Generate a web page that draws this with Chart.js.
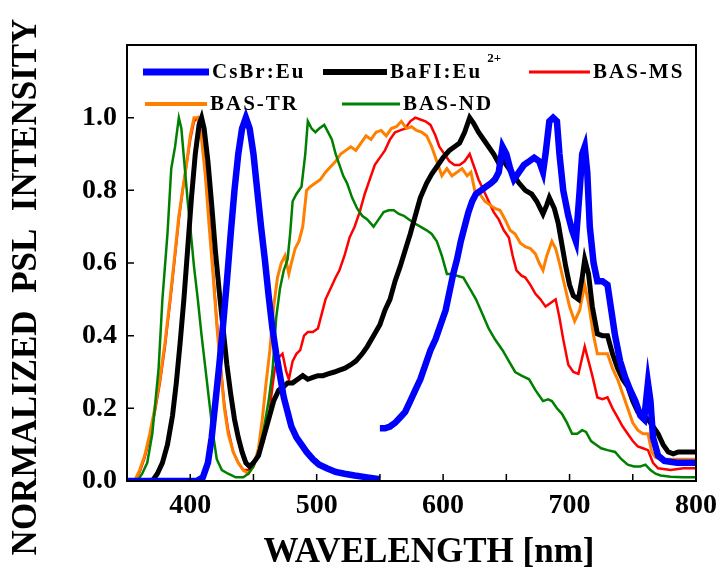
<!DOCTYPE html>
<html>
<head>
<meta charset="utf-8">
<script src="https://cdn.jsdelivr.net/npm/chart.js@4.4.1/dist/chart.umd.min.js"></script>
<style>
  body { margin: 0; background: #fff; }
  canvas { display: block; }
</style>
</head>
<body>
<canvas id="psl" width="725" height="573"></canvas>
<script>
// CsBr:Eu (two separate measured pieces)
const csbrWl1 = [350, 405, 410, 414, 417, 420, 423, 426, 429, 432, 435, 438, 441, 444, 447, 450, 453, 456, 459, 462, 465, 468, 471, 474, 477, 480, 484, 488, 492, 497, 502, 508, 515, 522, 530, 540, 550];
const csbrVal1 = [0, 0, 0.01, 0.05, 0.12, 0.22, 0.32, 0.43, 0.55, 0.68, 0.8, 0.9, 0.97, 1.0, 0.97, 0.9, 0.8, 0.7, 0.61, 0.51, 0.42, 0.35, 0.29, 0.23, 0.19, 0.15, 0.12, 0.1, 0.08, 0.06, 0.045, 0.035, 0.025, 0.02, 0.015, 0.01, 0.005];
const csbrWl2 = [550, 554, 558, 562, 566, 570, 574, 578, 582, 586, 590, 594, 598, 602, 605, 608, 611, 614, 617, 620, 623, 626, 630, 634, 638, 641, 644, 647, 650, 653, 656, 660, 664, 668, 672, 676, 679, 681, 684, 687, 690, 692, 695, 699, 702, 705, 708, 710, 712, 714, 716, 719, 722, 726, 730, 733, 736, 740, 744, 748, 752, 756, 759, 762, 764, 766, 770, 775, 785, 800];
const csbrVal2 = [0.145, 0.145, 0.15, 0.16, 0.175, 0.19, 0.22, 0.25, 0.28, 0.32, 0.36, 0.39, 0.43, 0.47, 0.52, 0.57, 0.61, 0.66, 0.7, 0.74, 0.77, 0.79, 0.8, 0.81, 0.82, 0.83, 0.85, 0.92, 0.9, 0.86, 0.83, 0.85, 0.87, 0.88, 0.89, 0.88, 0.85, 0.9, 0.99, 1.0, 0.99, 0.9, 0.8, 0.73, 0.69, 0.66, 0.8, 0.9, 0.92, 0.85, 0.7, 0.6, 0.55, 0.55, 0.54, 0.47, 0.4, 0.33, 0.285, 0.25, 0.22, 0.18, 0.17, 0.27, 0.22, 0.12, 0.07, 0.055, 0.05, 0.05];

// BaFI:Eu2+
const bafiWl = [350, 370, 374, 378, 382, 386, 389, 392, 395, 398, 401, 404, 407, 409, 411, 414, 417, 420, 423, 426, 429, 432, 435, 438, 441, 444, 447, 450, 454, 458, 462, 466, 470, 474, 477, 481, 485, 489, 493, 497, 501, 505, 509, 514, 518, 522, 527, 531, 536, 540, 545, 550, 554, 558, 562, 566, 570, 574, 578, 582, 587, 591, 595, 600, 605, 609, 613, 617, 621, 624, 628, 632, 636, 640, 644, 648, 652, 656, 660, 665, 670, 674, 679, 682, 684, 688, 691, 694, 697, 700, 703, 707, 710, 712, 715, 718, 722, 726, 730, 734, 738, 742, 746, 750, 754, 758, 762, 766, 770, 774, 778, 782, 786, 790, 795, 800];
const bafiVal = [0, 0, 0.02, 0.05, 0.1, 0.18, 0.27, 0.38, 0.5, 0.64, 0.78, 0.9, 0.98, 1.0, 0.97, 0.88, 0.76, 0.63, 0.52, 0.42, 0.32, 0.24, 0.17, 0.12, 0.08, 0.05, 0.04, 0.05, 0.07, 0.12, 0.17, 0.22, 0.25, 0.26, 0.27, 0.27, 0.28, 0.29, 0.28, 0.285, 0.29, 0.29, 0.295, 0.3, 0.305, 0.31, 0.32, 0.33, 0.35, 0.37, 0.4, 0.43, 0.47, 0.5, 0.55, 0.59, 0.635, 0.68, 0.73, 0.78, 0.82, 0.845, 0.865, 0.89, 0.91, 0.92, 0.93, 0.96, 1.0, 0.985, 0.96, 0.94, 0.92, 0.9, 0.875, 0.88, 0.86, 0.84, 0.82, 0.8, 0.79, 0.77, 0.735, 0.76, 0.78, 0.75, 0.71, 0.65, 0.59, 0.54, 0.51, 0.5, 0.56, 0.61, 0.57, 0.48, 0.405, 0.4, 0.4, 0.35, 0.31, 0.28, 0.26, 0.22, 0.19, 0.18, 0.17, 0.15, 0.13, 0.1, 0.08, 0.075, 0.08, 0.08, 0.08, 0.08];

// BAS-MS
const basMsWl = [350, 356, 360, 364, 368, 372, 376, 380, 384, 388, 391, 394, 397, 400, 403, 406, 409, 412, 415, 418, 421, 424, 427, 430, 434, 438, 442, 446, 450, 454, 458, 462, 465, 467, 470, 473, 476, 478, 481, 484, 487, 490, 493, 497, 501, 504, 507, 511, 515, 518, 522, 526, 530, 534, 538, 542, 546, 550, 554, 558, 562, 566, 570, 574, 578, 582, 586, 590, 594, 597, 601, 605, 609, 613, 617, 621, 625, 628, 632, 636, 640, 644, 648, 652, 655, 658, 662, 665, 669, 673, 677, 681, 685, 689, 692, 695, 699, 703, 707, 710, 712, 715, 718, 722, 726, 730, 734, 738, 742, 746, 750, 754, 758, 762, 766, 770, 780, 790, 800];
const basMsVal = [0, 0, 0.025, 0.065, 0.12, 0.19, 0.27, 0.37, 0.49, 0.62, 0.72, 0.8, 0.87, 0.94, 0.99, 1.0, 0.95, 0.85, 0.72, 0.58, 0.44, 0.32, 0.21, 0.14, 0.08, 0.05, 0.03, 0.03, 0.05, 0.07, 0.11, 0.17, 0.26, 0.31, 0.34, 0.35, 0.3, 0.28, 0.33, 0.35, 0.36, 0.4, 0.41, 0.41, 0.42, 0.46, 0.5, 0.53, 0.56, 0.58, 0.62, 0.67, 0.7, 0.74, 0.79, 0.83, 0.87, 0.89, 0.91, 0.94, 0.96, 0.965, 0.97, 0.99, 1.0, 0.995, 0.99, 0.98, 0.95, 0.92, 0.9, 0.88, 0.87, 0.87, 0.88, 0.9, 0.86, 0.83, 0.8, 0.77, 0.74, 0.72, 0.69, 0.67, 0.62, 0.58, 0.565, 0.56, 0.54, 0.515, 0.5, 0.48, 0.49, 0.5, 0.45, 0.39, 0.32, 0.3, 0.295, 0.34, 0.37, 0.33, 0.29, 0.23, 0.225, 0.23, 0.2, 0.175, 0.15, 0.13, 0.11, 0.095, 0.09, 0.085, 0.05, 0.035, 0.03, 0.035, 0.035];

// BAS-TR
const basTrWl = [350, 356, 360, 364, 368, 372, 376, 380, 384, 388, 391, 394, 397, 400, 403, 406, 409, 412, 415, 418, 421, 424, 427, 430, 434, 438, 442, 446, 450, 454, 457, 460, 463, 466, 469, 472, 475, 478, 480, 483, 486, 489, 492, 495, 499, 503, 507, 511, 515, 519, 523, 527, 531, 535, 539, 543, 547, 551, 555, 559, 563, 567, 571, 575, 579, 583, 587, 591, 595, 599, 603, 607, 611, 615, 619, 622, 625, 629, 633, 637, 641, 645, 649, 653, 657, 661, 665, 669, 673, 676, 679, 682, 686, 689, 692, 696, 700, 704, 708, 712, 715, 719, 722, 726, 730, 734, 738, 742, 746, 750, 754, 758, 762, 765, 768, 772, 780, 790, 800];
const basTrVal = [0, 0, 0.03, 0.07, 0.13, 0.2, 0.28, 0.38, 0.5, 0.63, 0.73, 0.8, 0.87, 0.95, 1.0, 1.0, 0.94, 0.84, 0.7, 0.57, 0.43, 0.31, 0.2, 0.13, 0.08, 0.05, 0.03, 0.02, 0.04, 0.09, 0.17, 0.27, 0.36, 0.48, 0.56, 0.6, 0.62, 0.57, 0.6, 0.64, 0.66, 0.7, 0.8, 0.81, 0.82, 0.83, 0.85, 0.865, 0.88, 0.9, 0.91, 0.92, 0.91, 0.93, 0.95, 0.94, 0.96, 0.965, 0.95, 0.97, 0.975, 0.99, 0.97, 0.975, 0.965, 0.96, 0.95, 0.92, 0.88, 0.84, 0.86, 0.84, 0.85, 0.86, 0.84, 0.85, 0.8, 0.79, 0.77, 0.76, 0.75, 0.745, 0.72, 0.69, 0.68, 0.655, 0.645, 0.64, 0.625, 0.6, 0.58, 0.62, 0.66, 0.64, 0.6, 0.54, 0.48, 0.44, 0.47, 0.54, 0.49, 0.4, 0.35, 0.35, 0.35, 0.31, 0.28, 0.24, 0.2, 0.16, 0.14, 0.13, 0.13, 0.08, 0.065, 0.06, 0.06, 0.06, 0.06];

// BAS-ND
const basNdWl = [350, 358, 362, 366, 370, 375, 378, 382, 385, 388, 391, 393, 396, 398, 400, 403, 406, 409, 412, 415, 418, 421, 425, 430, 436, 442, 446, 450, 454, 458, 462, 465, 468, 471, 474, 477, 479, 481, 484, 488, 491, 493, 496, 499, 502, 506, 509, 512, 515, 518, 521, 524, 528, 532, 536, 540, 545, 549, 553, 557, 561, 565, 569, 573, 577, 582, 587, 591, 595, 599, 603, 607, 611, 616, 621, 626, 631, 636, 641, 647, 652, 657, 662, 668, 673, 679, 683, 686, 690, 694, 698, 702, 706, 710, 713, 717, 721, 725, 730, 736, 741, 746, 751, 756, 760, 764, 768, 772, 780, 790, 800];
const basNdVal = [0, 0, 0.02, 0.05, 0.13, 0.31, 0.5, 0.68, 0.86, 0.92, 1.0, 0.97, 0.85, 0.77, 0.7, 0.59, 0.5, 0.4, 0.31, 0.22, 0.13, 0.06, 0.03, 0.02, 0.01, 0.01, 0.02, 0.04, 0.08, 0.14, 0.22, 0.3, 0.45, 0.53, 0.58, 0.61, 0.68, 0.77, 0.79, 0.81, 0.9, 0.99, 0.97, 0.96, 0.97, 0.98, 0.96, 0.94, 0.9, 0.87, 0.84, 0.82, 0.78, 0.75, 0.73, 0.72, 0.7, 0.72, 0.74, 0.745, 0.745, 0.735, 0.73, 0.72, 0.71, 0.7, 0.69, 0.68, 0.66, 0.62, 0.57, 0.57, 0.565, 0.56, 0.53, 0.5, 0.46, 0.42, 0.39, 0.36, 0.33, 0.3, 0.29, 0.28, 0.25, 0.22, 0.225, 0.22, 0.2, 0.185, 0.16, 0.13, 0.13, 0.14, 0.135, 0.11, 0.1, 0.09, 0.085, 0.08, 0.06, 0.045, 0.04, 0.04, 0.045, 0.03, 0.02, 0.015, 0.012, 0.01, 0.01];

const xTicks = [350, 800, 50];
const yTicks = [0, 1.2, 0.2];

const serif = "'Liberation Serif', 'DejaVu Serif', serif";

function pts(wl, val) {
    return wl.map((w, i) => ({ x: w, y: val[i] }));
}

// inward ticks and box around the plot
const framePlugin = {
    id: 'frame',
    afterDatasetsDraw(chart) {
        const { ctx, chartArea: a, scales } = chart;
        ctx.save();
        ctx.strokeStyle = '#000';
        ctx.lineWidth = 1.5;
        ctx.beginPath();
        scales.x.ticks.forEach(t => {
            const px = scales.x.getPixelForValue(t.value);
            if (px > a.left + 2 && px < a.right - 2) {
                ctx.moveTo(px, a.bottom);
                ctx.lineTo(px, a.bottom - 7);
            }
        });
        scales.y.ticks.forEach(t => {
            const py = scales.y.getPixelForValue(t.value);
            if (py > a.top + 2 && py < a.bottom - 2) {
                ctx.moveTo(a.left, py);
                ctx.lineTo(a.left + 7, py);
            }
        });
        ctx.stroke();
        ctx.lineWidth = 2;
        ctx.strokeRect(a.left, a.top, a.right - a.left, a.bottom - a.top);
        ctx.restore();
    }
};

// legend boxed inside the plot + axis titles
const legendPos = [
    { x: 143, y: 72, w: 66 },
    { x: 323, y: 72, w: 64 },
    { x: 529, y: 72, w: 61 },
    { x: 145, y: 104, w: 62 },
    { x: 342, y: 104, w: 58 }
];

const textPlugin = {
    id: 'texts',
    afterDraw(chart) {
        const { ctx } = chart;
        ctx.save();
        chart.data.datasets.forEach((ds, i) => {
            const p = legendPos[i];
            ctx.strokeStyle = ds.borderColor;
            ctx.lineWidth = ds.legendWidth;
            ctx.beginPath();
            ctx.moveTo(p.x, p.y);
            ctx.lineTo(p.x + p.w, p.y);
            ctx.stroke();
            ctx.fillStyle = '#000';
            ctx.textBaseline = 'middle';
            ctx.textAlign = 'left';
            ctx.font = 'bold 21px ' + serif;
            ctx.letterSpacing = '2px';
            ctx.fillText(ds.label, p.x + p.w + 3, p.y + 1);
            if (ds.sup) {
                const w = ctx.measureText(ds.label).width;
                ctx.font = 'bold 13px ' + serif;
                ctx.letterSpacing = '0px';
                ctx.fillText(ds.sup, p.x + p.w + 8 + w, p.y - 13);
            }
        });
        ctx.letterSpacing = '0px';
        ctx.fillStyle = '#000';
        ctx.font = 'bold 35px ' + serif;
        ctx.textAlign = 'center';
        ctx.textBaseline = 'alphabetic';
        ctx.fillText('WAVELENGTH [nm]', 429, 562);
        ctx.translate(36, 287);
        ctx.rotate(-Math.PI / 2);
        ctx.fillText('NORMALIZED  PSL  INTENSITY', 0, 0);
        ctx.restore();
    }
};

new Chart(document.getElementById('psl'), {
    type: 'line',
    data: {
        datasets: [
            {
                label: 'CsBr:Eu',
                data: pts(csbrWl1, csbrVal1).concat([{ x: 550, y: null }], pts(csbrWl2, csbrVal2)),
                borderColor: '#0000ff',
                borderWidth: 6.5,
                legendWidth: 7,
                order: 1
            },
            {
                label: 'BaFI:Eu',
                sup: '2+',
                data: pts(bafiWl, bafiVal),
                borderColor: '#000000',
                borderWidth: 5,
                legendWidth: 6,
                order: 2
            },
            {
                label: 'BAS-MS',
                data: pts(basMsWl, basMsVal),
                borderColor: '#ff0000',
                borderWidth: 2.5,
                legendWidth: 3,
                order: 5
            },
            {
                label: 'BAS-TR',
                data: pts(basTrWl, basTrVal),
                borderColor: '#ff8000',
                borderWidth: 3,
                legendWidth: 4,
                order: 4
            },
            {
                label: 'BAS-ND',
                data: pts(basNdWl, basNdVal),
                borderColor: '#008000',
                borderWidth: 2.5,
                legendWidth: 3,
                order: 3
            }
        ]
    },
    options: {
        responsive: false,
        animation: false,
        devicePixelRatio: 1,
        spanGaps: false,
        elements: {
            point: { radius: 0 },
            line: { tension: 0, borderJoinStyle: 'miter', borderCapStyle: 'butt' }
        },
        layout: { padding: { left: 0, top: 45, right: 23, bottom: 0 } },
        scales: {
            x: {
                type: 'linear',
                min: xTicks[0],
                max: xTicks[1],
                grid: { display: false, drawTicks: false },
                border: { display: false },
                ticks: {
                    stepSize: xTicks[2],
                    padding: 8,
                    color: '#000',
                    font: { family: serif, size: 28, weight: 'bold' },
                    maxRotation: 0,
                    autoSkip: false,
                    callback: v => (v % 100 === 0 ? String(v) : '')
                },
                afterFit: s => { s.height = 92; }
            },
            y: {
                min: yTicks[0],
                max: yTicks[1],
                grid: { display: false, drawTicks: false },
                border: { display: false },
                ticks: {
                    stepSize: yTicks[2],
                    padding: 10,
                    color: '#000',
                    font: { family: serif, size: 28, weight: 'bold' },
                    callback: v => (v > 1.1 ? '' : v.toFixed(1))
                },
                afterFit: s => { s.width = 127; }
            }
        },
        plugins: {
            legend: { display: false },
            tooltip: { enabled: false }
        }
    },
    plugins: [framePlugin, textPlugin]
});
</script>
</body>
</html>
